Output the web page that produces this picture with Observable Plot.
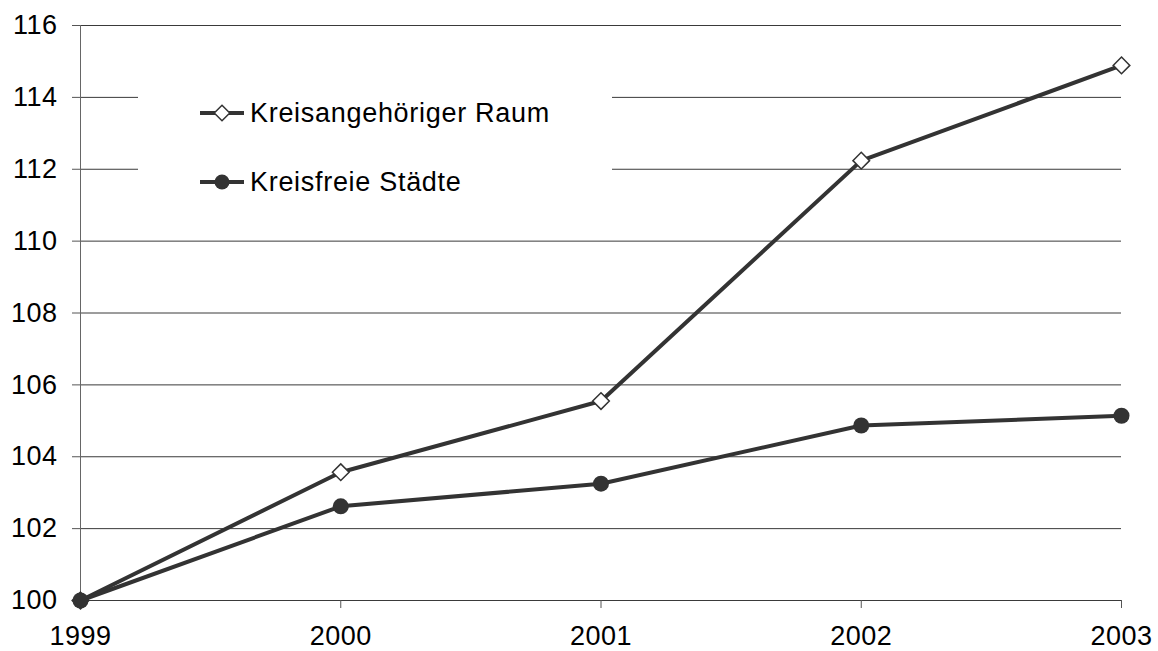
<!DOCTYPE html>
<html>
<head>
<meta charset="utf-8">
<script src="https://cdn.jsdelivr.net/npm/d3@7"></script>
<script src="https://cdn.jsdelivr.net/npm/@observablehq/plot@0.6"></script>
<style>
  html, body { margin: 0; padding: 0; background: #fff; }
  #chart svg { display: block; }
</style>
</head>
<body>
<div id="chart"></div>
<script>
const years = [1999, 2000, 2001, 2002, 2003];
const kreisangehoerig = [100, 103.57, 105.55, 112.24, 114.89];
const kreisfrei = [100, 102.62, 103.25, 104.87, 105.14];
const yTicks = [100, 102, 104, 106, 108, 110, 112, 114, 116];
const seriesNames = ["Kreisangehöriger Raum", "Kreisfreie Städte"];

const dataA = years.map((y, i) => ({year: y, value: kreisangehoerig[i]}));
const dataB = years.map((y, i) => ({year: y, value: kreisfrei[i]}));

const FONT = "'Liberation Sans', Arial, sans-serif";
const INK = "#333333";

const chart = Plot.plot({
  width: 1158,
  height: 651,
  marginLeft: 80,
  marginRight: 37,
  marginTop: 25,
  marginBottom: 51,
  style: {fontFamily: FONT, fontSize: "27px", color: "#000", background: "#fff", letterSpacing: "0.5px", overflow: "visible"},
  x: {domain: [1999, 2003], type: "linear"},
  y: {domain: [100, 116]},
  marks: [
    Plot.ruleY(yTicks, {stroke: "#3a3a3a", strokeWidth: 1, strokeOpacity: 1}),
    Plot.ruleX([1999], {stroke: "#666", strokeWidth: 1}),
    Plot.axisY({ticks: yTicks, tickSize: 8, tickPadding: 15, tickFormat: d => String(d),
      label: null, stroke: "#555", fill: "#000", fontSize: 27}),
    Plot.axisX({ticks: years, tickSize: 8, tickPadding: 17, tickFormat: d => String(d),
      label: null, stroke: "#555", fill: "#000", fontSize: 27}),
    Plot.line(dataA, {x: "year", y: "value", stroke: INK, strokeWidth: 4}),
    Plot.line(dataB, {x: "year", y: "value", stroke: INK, strokeWidth: 4}),
    Plot.dot(dataA, {x: "year", y: "value", symbol: "diamond2", r: 7.5, fill: "#fff", stroke: INK, strokeWidth: 1.5}),
    Plot.dot(dataB, {x: "year", y: "value", r: 8, fill: INK, stroke: "none"})
  ]
});

// Legend box (drawn over the grid, top-left inside the plot)
const svg = d3.select(chart);
const lg = svg.append("g").attr("class", "legend");
lg.append("rect").attr("x", 138).attr("y", 55).attr("width", 474).attr("height", 160).attr("fill", "#fff");
const rows = [113, 182];
seriesNames.forEach((name, i) => {
  const cy = rows[i];
  lg.append("line").attr("x1", 200).attr("x2", 244).attr("y1", cy).attr("y2", cy)
    .attr("stroke", INK).attr("stroke-width", 4);
  if (i === 0) {
    lg.append("path").attr("d", d3.symbol(d3.symbolDiamond2, Math.PI * 49)())
      .attr("transform", `translate(222,${cy})`)
      .attr("fill", "#fff").attr("stroke", INK).attr("stroke-width", 1.5);
  } else {
    lg.append("circle").attr("cx", 222).attr("cy", cy).attr("r", 7.5).attr("fill", INK);
  }
  lg.append("text").attr("x", 250).attr("y", cy).attr("dy", "0.35em")
    .attr("text-anchor", "start").attr("letter-spacing", "0.7px")
    .attr("font-family", FONT).attr("font-size", 27).attr("fill", "#000").text(name);
});

document.getElementById("chart").appendChild(chart);
</script>
</body>
</html>
